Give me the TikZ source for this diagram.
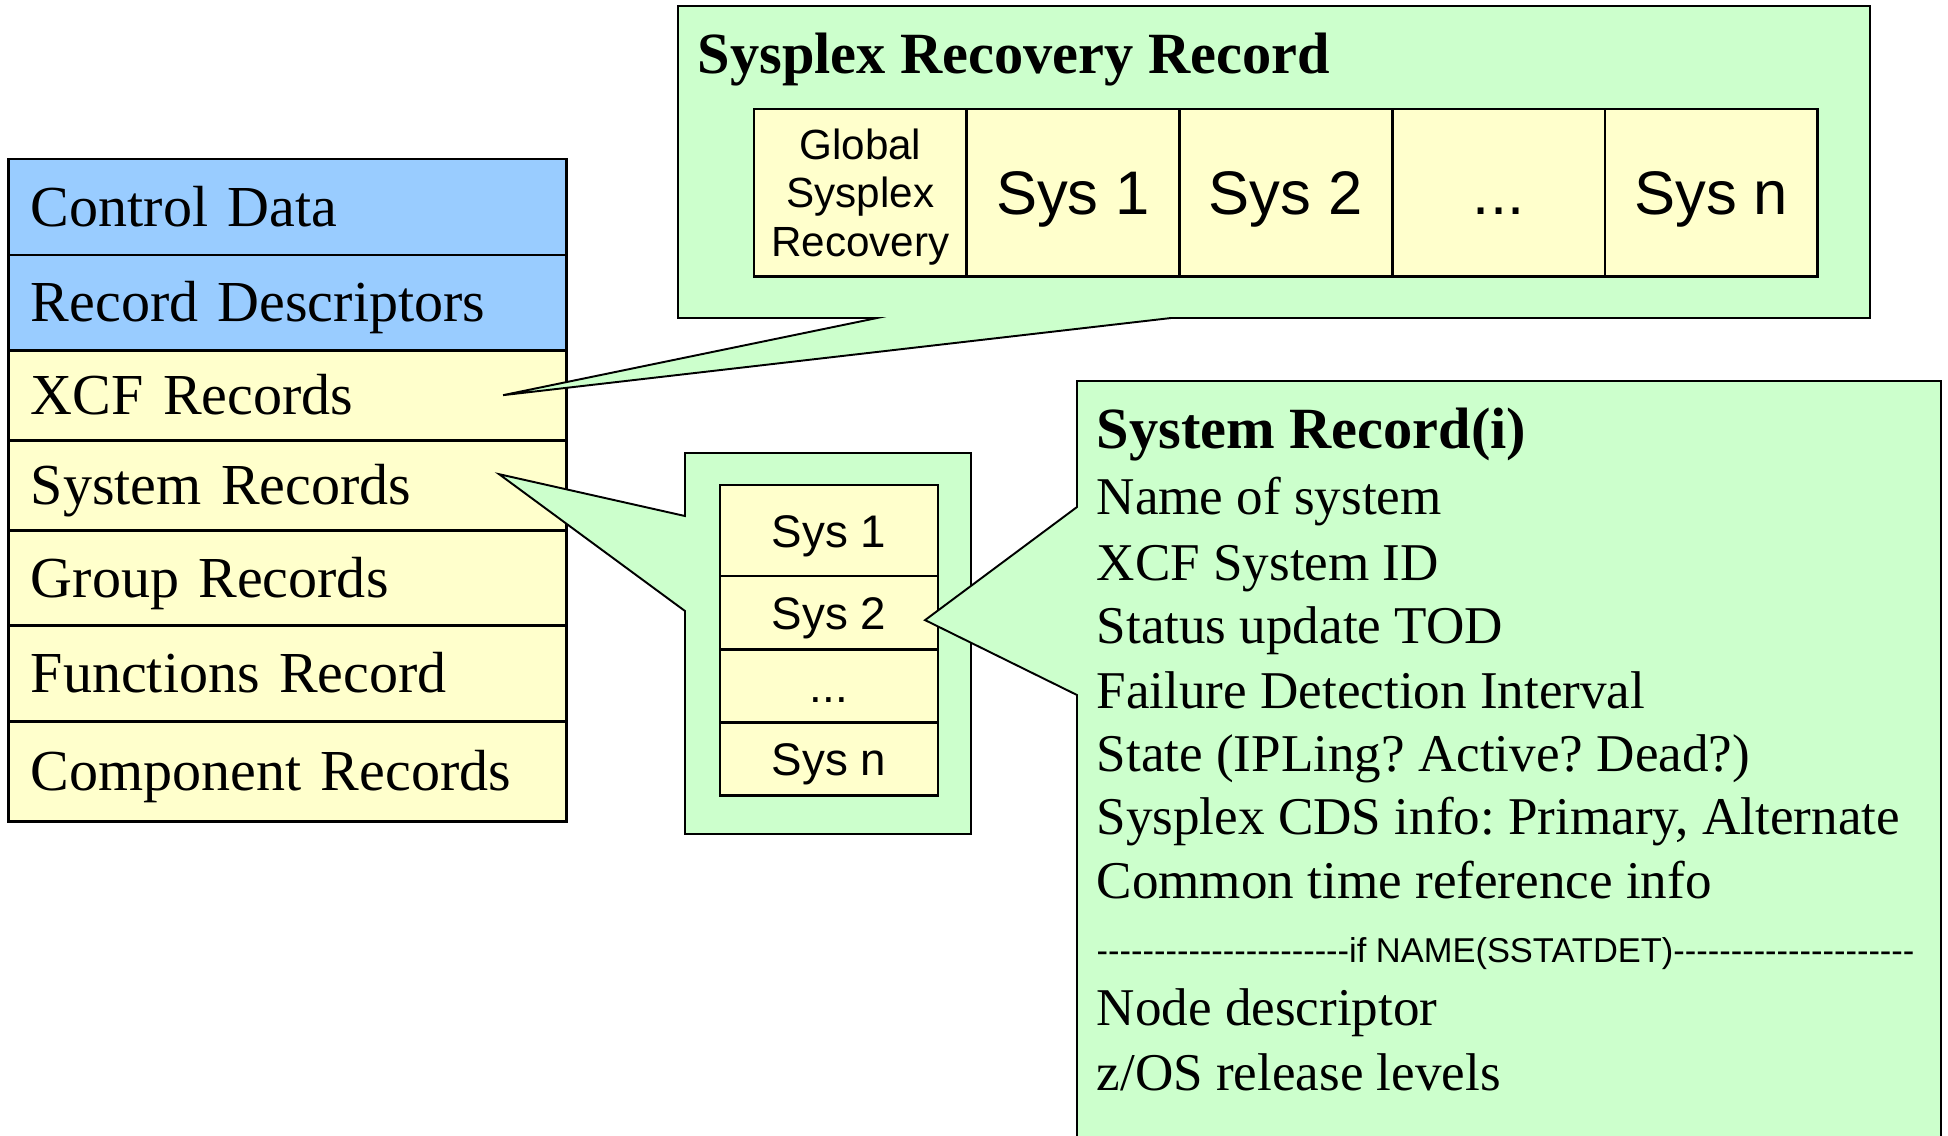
\documentclass[tikz,border=0pt]{standalone}
\usepackage{fontspec}
\setmainfont{Liberation Serif}
\setsansfont{Liberation Sans}
\newfontfamily\cdsfont{Liberation Sans}
\usetikzlibrary{positioning}
\frenchspacing

\definecolor{cdblue}{HTML}{99CCFF}
\definecolor{recyellow}{HTML}{FFFFCC}
\definecolor{bubblegreen}{HTML}{CCFFCC}

\tikzset{
  stackrow/.style={draw=black, line width=0.8pt, fill=recyellow, outer sep=0pt,
    text width=5.13cm, inner xsep=0.22cm, inner ysep=0pt, align=left,
    text height=0.385cm, text depth=0pt, font=\fontsize{16.5}{19}\selectfont},
  cellbase/.style={draw=black, line width=0.8pt, fill=recyellow, outer sep=0pt,
    inner sep=0pt, text depth=0pt},
  syscell/.style={cellbase, minimum width=2.126cm, minimum height=1.67cm,
    text height=0.44cm, font=\sffamily\fontsize{17.5}{20}\selectfont},
  globcell/.style={cellbase, minimum width=2.126cm, minimum height=1.67cm,
    align=center, font=\sffamily\fontsize{12}{13.7}\selectfont},
  slotcell/.style={cellbase, minimum width=2.18cm, text height=0.33cm,
    font=\sffamily\fontsize{13}{15}\selectfont},
  bubble/.style={draw=black, line width=0.55pt, fill=bubblegreen, line join=miter},
  rectitle/.style={inner sep=0pt, anchor=base west, font=\bfseries\fontsize{16.6}{19}\selectfont},
  fieldtext/.style={inner sep=0pt, anchor=base west, font=\fontsize{15.1}{18}\selectfont},
  sepline/.style={inner sep=0pt, anchor=base west, font=\cdsfont\fontsize{9.8}{11}\selectfont}
}

\begin{document}
\begin{tikzpicture}[x=0.01cm, y=-0.01cm]
\useasboundingbox (0,0) rectangle (1948,1135);
\clip (0,0) rectangle (1948,1135);

% couple data set layout
\node[stackrow, fill=cdblue, minimum height=0.96cm, anchor=north] (ctl) at (287.5,159) {Control Data};
\node[stackrow, fill=cdblue, minimum height=0.95cm, below=0pt of ctl] (rdesc) {Record Descriptors};
\node[stackrow, minimum height=0.90cm, below=0pt of rdesc] (xcf) {XCF Records};
\node[stackrow, minimum height=0.90cm, below=0pt of xcf] (sysrec) {System Records};
\node[stackrow, minimum height=0.95cm, below=0pt of sysrec] (grp) {Group Records};
\node[stackrow, minimum height=0.96cm, below=0pt of grp] (fun) {Functions Record};
\node[stackrow, minimum height=1.00cm, below=0pt of fun] (comp) {Component Records};

% sysplex recovery record
\draw[bubble] (678,6) -- (1870,6) -- (1870,318) -- (1171,318)
  -- ([xshift=-0.63cm]xcf.east) -- (877,318) -- (678,318) -- cycle;
\node[rectitle] (srrtitle) at (697,73) {Sysplex Recovery Record};
\node[globcell, anchor=north west] (glob) at (754,109) {Global\\Sysplex\\Recovery};
\node[syscell, right=0pt of glob] (rsys1) {Sys 1};
\node[syscell, right=0pt of rsys1] (rsys2) {Sys 2};
\node[syscell, right=0pt of rsys2] (rdots) {...};
\node[syscell, right=0pt of rdots] (rsysn) {Sys n};

% system records
\draw[bubble] (685,453) -- (971,453) -- (971,834) -- (685,834) -- (685,611)
  -- ([xshift=-0.67cm, yshift=0.11cm]sysrec.east) -- (685,516) -- cycle;
\node[slotcell, minimum height=0.91cm, anchor=north] (msys1) at (829,485) {Sys 1};
\node[slotcell, minimum height=0.73cm, below=0pt of msys1] (msys2) {Sys 2};
\node[slotcell, minimum height=0.73cm, below=0pt of msys2] (mdots) {...};
\node[slotcell, minimum height=0.73cm, below=0pt of mdots] (msysn) {Sys n};

% system record (i)
\draw[bubble] (1077,381) -- (1941,381) -- (1941,1160) -- (1077,1160) -- (1077,695)
  -- ([xshift=-0.13cm, yshift=-0.075cm]msys2.east) -- (1077,507) -- cycle;
\node[rectitle] (srtitle) at (1096,448) {System Record(i)};
\node[fieldtext] (fname) at (1096,514) {Name of system};
\node[fieldtext] (fid) at (1096,580) {XCF System ID};
\node[fieldtext] (ftod) at (1096,643) {Status update TOD};
\node[fieldtext] (fint) at (1096,708) {Failure Detection Interval};
\node[fieldtext] (fstate) at (1096,771) {State (IPLing? Active? Dead?)};
\node[fieldtext] (fcds) at (1096,834) {Sysplex CDS info: Primary, Alternate};
\node[fieldtext] (ftime) at (1096,898) {Common time reference info};
\node[sepline] (fsep) at (1096,962) {----------------------if NAME(SSTATDET)---------------------};
\node[fieldtext] (fnode) at (1096,1025) {Node descriptor};
\node[fieldtext] (frel) at (1096,1090) {z/OS release levels};

\end{tikzpicture}
\end{document}
